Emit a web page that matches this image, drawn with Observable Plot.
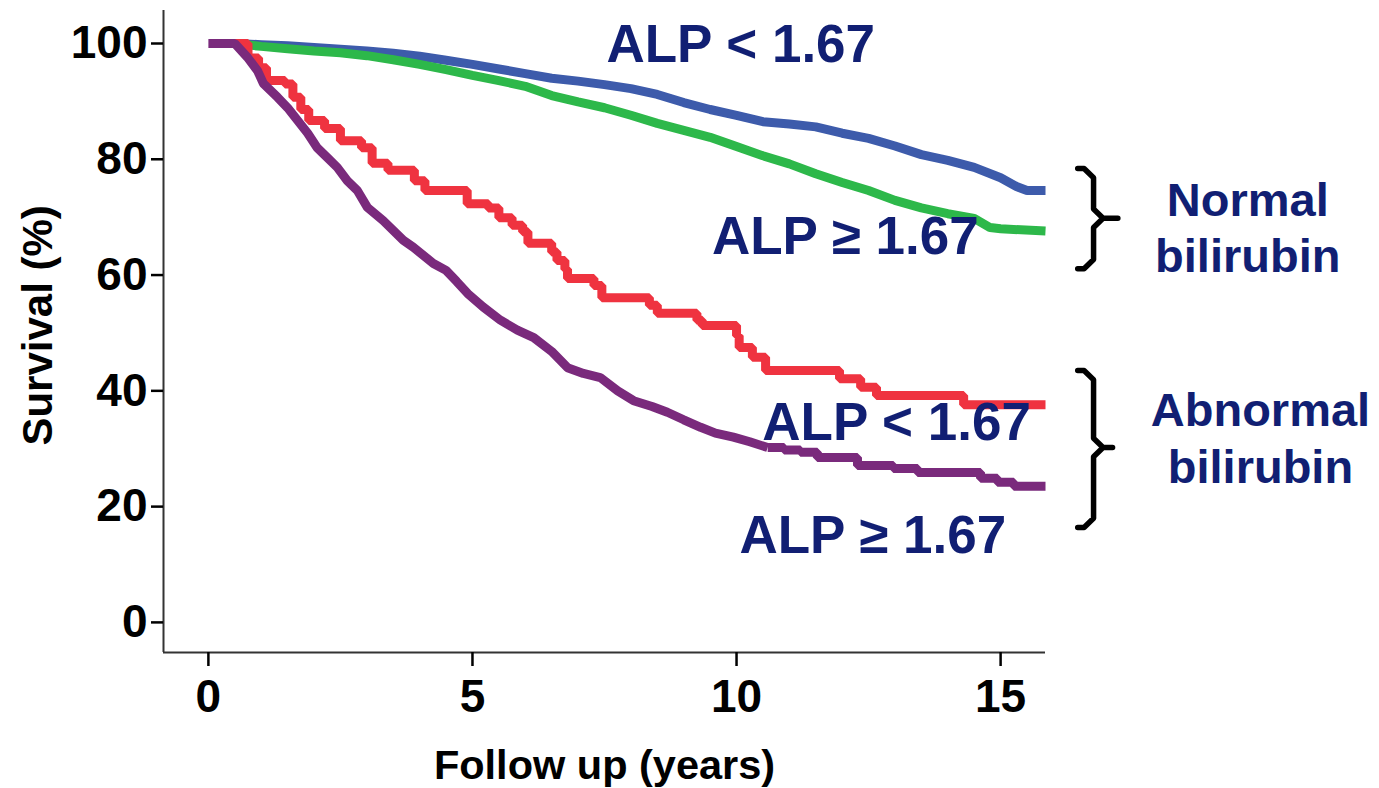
<!DOCTYPE html>
<html><head><meta charset="utf-8">
<script src="https://cdn.jsdelivr.net/npm/d3@7"></script>
<script src="https://cdn.jsdelivr.net/npm/@observablehq/plot@0.6"></script>
<style>html,body{margin:0;padding:0;background:#fff;} #chart{width:1379px;height:788px;}</style>
</head><body><div id="chart"></div>
<script>
// ---- data ----
const xTicks = [0, 5, 10, 15];
const yTicks = [0, 20, 40, 60, 80, 100];
const xTitle = "Follow up (years)";
const yTitle = "Survival (%)";

// [years, survival %]
const normalLowALP = [[0.5,100],[1.0,99.8],[1.5,99.6],[2.0,99.3],[2.5,99.0],[3.0,98.7],[3.5,98.3],[4.0,97.8],[4.5,97.1],[5.0,96.4],[5.5,95.6],[6.0,94.8],[6.5,94.0],[7.0,93.5],[7.5,92.9],[8.0,92.2],[8.5,91.2],[9.0,89.8],[9.5,88.6],[10.0,87.6],[10.5,86.5],[11.0,86.1],[11.5,85.6],[12.0,84.5],[12.5,83.6],[13.0,82.3],[13.5,80.8],[14.0,79.8],[14.5,78.6],[15.0,76.8],[15.3,75.3],[15.5,74.6],[15.85,74.6]];
const normalHighALP = [[0.5,100],[1.0,99.5],[1.5,99.1],[2.0,98.7],[2.5,98.4],[3.0,97.9],[3.5,97.2],[4.0,96.4],[4.5,95.5],[5.0,94.5],[5.5,93.6],[6.0,92.6],[6.5,91.0],[7.0,89.9],[7.5,88.9],[8.0,87.6],[8.5,86.2],[9.0,85.0],[9.5,83.8],[10.0,82.2],[10.5,80.6],[11.0,79.2],[11.5,77.5],[12.0,76.0],[12.5,74.6],[13.0,72.9],[13.5,71.6],[14.0,70.6],[14.5,69.8],[14.8,68.2],[15.0,68.0],[15.85,67.6]];
const abnormalLowALP = [[0.5,100],[0.75,97.5],[0.95,95.8],[1.1,93.6],[1.45,93.0],[1.6,90.7],[1.75,88.6],[1.9,86.7],[2.2,85.3],[2.5,83.2],[2.9,82.0],[3.1,79.3],[3.4,78.1],[3.9,76.3],[4.1,74.6],[4.9,72.3],[5.3,71.6],[5.5,69.9],[5.75,68.6],[5.95,67.5],[6.05,65.5],[6.5,64.0],[6.6,62.5],[6.75,61.0],[6.8,59.4],[7.3,58.2],[7.45,56.1],[8.35,54.8],[8.5,53.4],[9.25,52.2],[9.35,51.3],[10.0,49.5],[10.05,47.5],[10.3,45.8],[10.55,43.5],[11.95,42.1],[12.35,40.6],[12.65,39.2],[14.3,37.6],[15.85,37.6]];
const abnormalHighALP = [[0,100],[0.5,100],[0.74,97.6],[0.93,95.3],[1.04,93.1],[1.31,90.7],[1.5,88.9],[1.69,86.7],[1.88,84.5],[2.06,82.0],[2.25,80.3],[2.44,78.6],[2.63,76.3],[2.82,74.6],[3.01,71.7],[3.31,69.4],[3.69,66.0],[3.88,64.8],[4.26,62.0],[4.5,60.8],[4.7,58.9],[4.91,56.8],[5.2,54.5],[5.53,52.2],[5.85,50.5],[6.16,49.2],[6.5,46.8],[6.8,44.0],[7.1,43.0],[7.42,42.3],[7.75,40.0],[8.05,38.3],[8.4,37.3],[8.69,36.3],[9.0,35.0],[9.32,33.7],[9.6,32.7],[9.94,32.0],[10.25,31.2],[10.59,30.2],[10.9,29.8],[11.21,29.4],[11.53,28.5],[12.29,27.1],[12.97,26.6],[13.43,25.9],[14.62,24.9],[14.94,24.2],[15.25,23.5],[15.85,23.5]];

const seriesNames = ["Normal bilirubin, ALP < 1.67", "Normal bilirubin, ALP ≥ 1.67", "Abnormal bilirubin, ALP < 1.67", "Abnormal bilirubin, ALP ≥ 1.67"];
const seriesColors = ["#3d5bab", "#2db84a", "#ef3340", "#7a2a7c"];
const seriesData = [normalLowALP, normalHighALP, abnormalLowALP, abnormalHighALP];

// annotation labels: [text, x (years), y (%)]
const curveLabels = [["ALP < 1.67", 10.08, 99.7], ["ALP ≥ 1.67", 12.06, 66.5], ["ALP < 1.67", 13.03, 34.5], ["ALP ≥ 1.67", 12.58, 15.0]];
const groupLabels = [["Normal\nbilirubin", 19.68, 68.5], ["Abnormal\nbilirubin", 19.92, 32.2]];
// braces: [x left, x spine, x tip, top %, middle %, bottom %]
const braces = [[16.46, 16.76, 17.22, 78.4, 69.8, 61.1], [16.46, 16.76, 17.12, 43.5, 30.2, 16.4]];

const navy = "#111f73";
const font = "'Liberation Sans', Arial, Helvetica, sans-serif";

function bracePoints([x0, xv, tip, top, mid, bot], id) {
  const rx = 0.18, ry = 1.6;
  return [[x0, top], [xv - rx, top], [xv, top - ry], [xv, mid + ry], [xv + rx, mid], [tip, mid],
          [xv + rx, mid], [xv, mid - ry], [xv, bot + ry], [xv - rx, bot], [x0, bot]].map(p => ({x: p[0], y: p[1], id}));
}
const braceRows = braces.flatMap((b, i) => bracePoints(b, i));

// the gradual curves are drawn as lines, the visibly stepped parts as steps
const curveStyles = ["linear", "linear", "step-after", "linear"];
const purpleStepFrom = 10.59;

const xMin = -0.85, xMax = 15.85, yMin = -5.2, yMax = 105.7;

function lineMark(pts, i, curve) {
  return Plot.line(pts, {x: d => d[0], y: d => d[1], stroke: seriesColors[i], strokeWidth: 9, curve,
    strokeLinejoin: "miter", strokeLinecap: "butt", title: () => seriesNames[i]});
}
const curveMarks = [
  lineMark(normalLowALP, 0, curveStyles[0]),
  lineMark(normalHighALP, 1, curveStyles[1]),
  lineMark(abnormalLowALP, 2, curveStyles[2]),
  lineMark(abnormalHighALP.filter(d => d[0] <= purpleStepFrom), 3, curveStyles[3]),
  lineMark(abnormalHighALP.filter(d => d[0] >= purpleStepFrom), 3, "step-after")
];

const chart = Plot.plot({
  width: 1379, height: 788,
  marginLeft: 163, marginRight: 334, marginTop: 10, marginBottom: 136,
  style: {fontFamily: font, background: "#fff", color: "#000"},
  x: {domain: [xMin, xMax]},
  y: {domain: [yMin, yMax]},
  marks: [
    Plot.ruleX([xMin], {stroke: "#333", strokeWidth: 2}),
    Plot.ruleY([yMin], {stroke: "#333", strokeWidth: 2}),
    Plot.axisY({ticks: yTicks, tickSize: 12, tickPadding: 4, fontSize: 46, fontWeight: "bold", stroke: "#000", strokeWidth: 2.5, fill: "#000", label: null}),
    Plot.axisX({ticks: xTicks, tickSize: 14, tickPadding: 13, fontSize: 46, fontWeight: "bold", stroke: "#000", strokeWidth: 2.5, fill: "#000", label: null}),
    Plot.text([yTitle], {frameAnchor: "left", y: [51.3], dx: -125, rotate: -90, textAnchor: "middle", fontSize: 42, fontWeight: "bold", fill: "#000"}),
    Plot.text([xTitle], {frameAnchor: "bottom", x: [7.5], dy: 126, textAnchor: "middle", fontSize: 41.5, fontWeight: "bold", fill: "#000"}),
    ...curveMarks,
    Plot.text(curveLabels, {x: d => d[1], y: d => d[2], text: d => d[0], fontSize: 53, fontWeight: "bold", fill: navy}),
    Plot.text(groupLabels, {x: d => d[1], y: d => d[2], text: d => d[0], fontSize: 47, lineHeight: 1.21, fontWeight: "bold", fill: navy}),
    Plot.line(braceRows, {x: "x", y: "y", z: "id", stroke: "#000", strokeWidth: 5.5, strokeLinejoin: "round", strokeLinecap: "round"})
  ]
});
document.getElementById("chart").appendChild(chart);
</script>
</body></html>
